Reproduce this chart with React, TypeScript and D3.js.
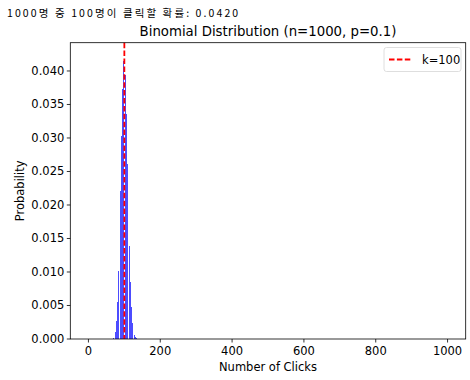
import React from "react";
import * as d3 from "d3";

const headerText = "1000명 중 100명이 클릭할 확률: 0.0420";
const titleText = "Binomial Distribution (n=1000, p=0.1)";
const xLabel = "Number of Clicks";
const yLabel = "Probability";
const legendLabel = "k=100";
const markerK = 100;

// Number of clicks (k) that have visible bars
const clicks = [
  69, 70, 71, 72, 73, 74, 75, 76, 77, 78, 79, 80, 81, 82, 83, 84, 85, 86, 87, 88, 89,
  90, 91, 92, 93, 94, 95, 96, 97, 98, 99, 100, 101, 102, 103, 104, 105, 106, 107, 108, 109,
  110, 111, 112, 113, 114, 115, 116, 117, 118, 119, 120, 121, 122, 123, 124, 125, 126, 127, 128, 129,
  130, 131, 132, 133, 134, 135,
];
// Probability
const probabilities = [
  0.00014, 0.0002, 0.00029, 0.00041, 0.00058, 0.0008, 0.0011, 0.00149, 0.00199, 0.00262, 0.0034,
  0.00434, 0.00548, 0.00683, 0.00839, 0.01018, 0.01219, 0.01441, 0.01682, 0.01939, 0.02208,
  0.02483, 0.02759, 0.03029, 0.03286, 0.03523, 0.03733, 0.0391, 0.04049, 0.04145, 0.04196,
  0.04201, 0.04159, 0.04073, 0.03946, 0.03781, 0.03585, 0.03363, 0.03122, 0.02868, 0.02608,
  0.02347, 0.02091, 0.01844, 0.0161, 0.01392, 0.01192, 0.0101, 0.00848, 0.00705, 0.00581,
  0.00474, 0.00383, 0.00307, 0.00243, 0.00191, 0.00149, 0.00115, 0.00088, 0.00067, 0.0005,
  0.00037, 0.00027, 0.0002, 0.00014, 0.0001, 0.00007,
];
const xTicks = [0, 200, 400, 600, 800, 1000];
const yTicks = [0, 0.005, 0.01, 0.015, 0.02, 0.025, 0.03, 0.035, 0.04];

const W = 470;
const H = 380;
const left = 70.3;
const right = 465.7;
const top = 42.7;
const bottom = 339;
const font = "DejaVu Sans, sans-serif";

export default function App() {
  const x = d3.scaleLinear().domain([-50.5, 1050.5]).range([left, right]);
  const y = d3.scaleLinear().domain([0, 0.04422]).range([bottom, top]);
  const barW = 0.8 * (x(1) - x(0));

  return (
    <svg
      width={W}
      height={H}
      style={{ position: "absolute", left: 0, top: 0, display: "block", background: "#fff" }}
      fontFamily={font}
    >
      <rect x={0} y={0} width={W} height={H} fill="#fff" />
      <text
        x={7}
        y={17}
        fontSize={10.5}
        style={{ letterSpacing: "2.1px" }}
        fontFamily="'Noto Sans CJK KR', sans-serif"
        fill="#000"
      >
        {headerText}
      </text>
      <text x={(left + right) / 2} y={36} textAnchor="middle" fontSize={13.3} fill="#000">
        {titleText}
      </text>

      <g shapeRendering="crispEdges">
        {clicks.map((k, i) => (
          <rect
            key={k}
            x={x(k) - barW / 2}
            y={y(probabilities[i])}
            width={barW}
            height={bottom - y(probabilities[i])}
            fill="blue"
            fillOpacity={0.7}
          />
        ))}
      </g>

      <line
        x1={x(markerK)}
        x2={x(markerK)}
        y1={top}
        y2={bottom}
        stroke="red"
        strokeWidth={1.8}
        strokeDasharray="5.5,2.4"
      />

      {/* spines */}
      <rect x={left} y={top} width={right - left} height={bottom - top} fill="none" stroke="#000" strokeWidth={0.8} />

      {/* x ticks */}
      {xTicks.map((t) => (
        <g key={t}>
          <line x1={x(t)} x2={x(t)} y1={bottom} y2={bottom + 3.5} stroke="#000" strokeWidth={0.8} />
          <text x={x(t)} y={bottom + 16} textAnchor="middle" fontSize={11.5} fill="#000">
            {t}
          </text>
        </g>
      ))}
      {/* y ticks */}
      {yTicks.map((t) => (
        <g key={t}>
          <line x1={left} x2={left - 3.5} y1={y(t)} y2={y(t)} stroke="#000" strokeWidth={0.8} />
          <text x={left - 6} y={y(t) + 4} textAnchor="end" fontSize={11.5} fill="#000">
            {t.toFixed(3)}
          </text>
        </g>
      ))}

      <text x={(left + right) / 2} y={371} textAnchor="middle" fontSize={11.5} fill="#000">
        {xLabel}
      </text>
      <text
        transform={`translate(24,${(top + bottom) / 2}) rotate(-90)`}
        textAnchor="middle"
        fontSize={11.5}
        fill="#000"
      >
        {yLabel}
      </text>

      {/* legend */}
      <g>
        <rect x={384} y={47.5} width={77} height={24} rx={2.5} fill="#fff" fillOpacity={0.8} stroke="#d6d6d6" strokeWidth={0.8} />
        <line x1={389} x2={412} y1={59.5} y2={59.5} stroke="red" strokeWidth={1.8} strokeDasharray="5.5,2.4" />
        <text x={422} y={64} fontSize={11.5} fill="#000">
          {legendLabel}
        </text>
      </g>
    </svg>
  );
}
